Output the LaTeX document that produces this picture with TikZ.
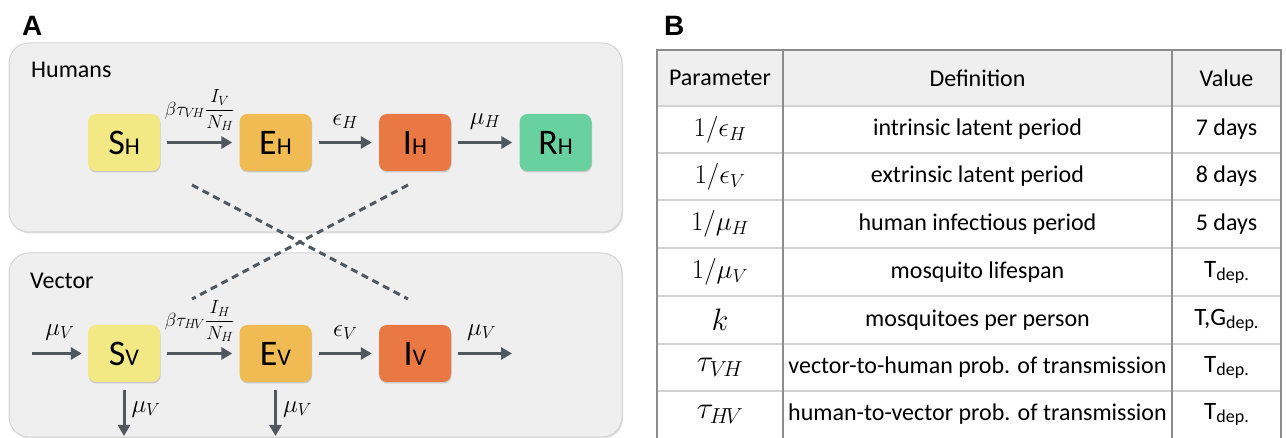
\RequirePackage{fix-cm}
\documentclass[tikz,border=0pt]{standalone}
\usepackage{fontspec}
\setmainfont{Carlito}
\newfontfamily\panelfont{Liberation Sans}
\usetikzlibrary{arrows.meta,shadows}

\definecolor{panelbg}{HTML}{EFEFEF}
\definecolor{panelrule}{HTML}{D4D4D4}
\definecolor{sus}{HTML}{F2E985}
\definecolor{expo}{HTML}{EFBB52}
\definecolor{infc}{HTML}{EA7843}
\definecolor{recv}{HTML}{68D19F}
\definecolor{flow}{HTML}{50575F}
\definecolor{gridline}{HTML}{D2D2D2}
\definecolor{frameline}{HTML}{8C8C8C}

\newcommand{\fsz}[1]{\fontsize{#1}{#1}\selectfont}
\newcommand{\compname}[2]{{\fsz{36}#1}{\fsz{24}#2}}
\newcommand{\deplabel}[1]{{\fsz{25}#1}{\fsz{18}\raisebox{-3pt}{dep.}}}

\begin{document}
\begin{tikzpicture}[x=1pt,y=-1pt,
  panel/.style={draw=panelrule, line width=1pt, fill=panelbg, rounded corners=20pt,
    drop shadow={shadow xshift=1pt, shadow yshift=-1.5pt, opacity=0.25}},
  compbox/.style={rounded corners=8pt, minimum width=72pt, minimum height=57pt,
    inner sep=0pt, text=black,
    drop shadow={shadow xshift=0.5pt, shadow yshift=-1.5pt, opacity=0.35}},
  flowarrow/.style={draw=flow, line width=3pt, -{Triangle[length=11pt,width=12pt]}},
  contact/.style={draw=flow, line width=3pt, dash pattern=on 7pt off 5pt},
  rate/.style={font=\fsz{25}, inner sep=0pt},
  fracrate/.style={font=\fsz{19}, inner sep=0pt},
  grouplabel/.style={font=\fsz{24}, anchor=west, inner sep=0pt},
  paneltag/.style={font=\panelfont\bfseries\fsz{28}, anchor=base west, inner sep=0pt},
  cell/.style={font=\fsz{24}, inner sep=0pt},
  mathcell/.style={font=\fsz{27}, inner sep=0pt},
  bigmathcell/.style={font=\fsz{31}, inner sep=0pt}
]
\useasboundingbox (0,0) rectangle (1286,438);

% ---------- Panel A : transmission model ----------
\node[paneltag] (tagA) at (22,36) {A};

\path[panel] (9,43) rectangle (622,232);
\path[panel] (9,253) rectangle (622,437);

\node[grouplabel] (hum) at (31,70) {Humans};
\node[grouplabel] (vec) at (30,281) {Vector};

% human compartments
\node[compbox, fill=sus]  (SH) at (124,142.5)   {\compname{S}{H}};
\node[compbox, fill=expo] (EH) at (275.5,142.5) {\compname{E}{H}};
\node[compbox, fill=infc] (IH) at (415,142.5)   {\compname{I}{H}};
\node[compbox, fill=recv] (RH) at (555.5,142.5) {\compname{R}{H}};

% vector compartments
\node[compbox, fill=sus]  (SV) at (124,353.5)   {\compname{S}{V}};
\node[compbox, fill=expo] (EV) at (275.5,353.5) {\compname{E}{V}};
\node[compbox, fill=infc] (IV) at (415,353.5)   {\compname{I}{V}};

% free ends of the vector birth/death flows
\coordinate (vin)   at (32,353.5);
\coordinate (vout)  at (512,353.5);
\coordinate (svout) at (124,436);
\coordinate (evout) at (275.5,436);

% human flows
\draw[flowarrow, shorten <=7pt, shorten >=7pt] (SH) -- (EH)
  node[fracrate, midway, above=10pt] (lSE) {$\displaystyle\beta\tau_{V\!H}\frac{I_V}{N_H}$};
\draw[flowarrow, shorten <=7pt, shorten >=7pt] (EH) -- (IH)
  node[rate, midway, above=12pt] (lEI) {$\epsilon_H$};
\draw[flowarrow, shorten <=7pt, shorten >=7pt] (IH) -- (RH)
  node[rate, midway, above=12pt] (lIR) {$\mu_H$};

% vector flows
\draw[flowarrow, shorten >=6pt] (vin) -- (SV)
  node[rate, midway, above=12pt] (lin) {$\mu_V$};
\draw[flowarrow, shorten <=7pt, shorten >=7pt] (SV) -- (EV)
  node[fracrate, midway, above=10pt] (lSEv) {$\displaystyle\beta\tau_{H\!V}\frac{I_H}{N_H}$};
\draw[flowarrow, shorten <=7pt, shorten >=7pt] (EV) -- (IV)
  node[rate, midway, above=12pt] (lEIv) {$\epsilon_V$};
\draw[flowarrow, shorten <=7pt] (IV) -- (vout)
  node[rate, midway, above=12pt] (lout) {$\mu_V$};
\draw[flowarrow, shorten <=8pt] (SV) -- (svout)
  node[rate, midway, right=6pt] (ldS) {$\mu_V$};
\draw[flowarrow, shorten <=8pt] (EV) -- (evout)
  node[rate, midway, right=6pt] (ldE) {$\mu_V$};

% cross-species contact links
\coordinate (hA) at (192,185);
\coordinate (hB) at (408,185);
\coordinate (vA) at (192,299);
\coordinate (vB) at (408,299);
\draw[contact] (hA) -- (vB);
\draw[contact] (hB) -- (vA);

% ---------- Panel B : parameter table ----------
\node[paneltag] (tagB) at (664,36) {B};

\fill[panelbg] (657,50) rectangle (1281,106);
\foreach \yy in {106,153,200,248,296,344,391}
  \draw[gridline, line width=1.2pt] (657,\yy) -- (1281,\yy);
\draw[frameline, line width=1.2pt] (783,50) -- (783,438);
\draw[frameline, line width=1.2pt] (1172,50) -- (1172,438);
\draw[frameline, line width=1.2pt] (657,438) -- (657,50) -- (1281,50) -- (1281,438);

% header
\node[cell] (hP) at (720,78)    {Parameter};
\node[cell] (hD) at (977.5,78)  {Definition};
\node[cell] (hV) at (1226.5,78) {Value};

% rows
\node[mathcell] (p1) at (720,129.5) {$1/\epsilon_H$};
\node[cell]     (d1) at (977.5,129.5) {intrinsic latent period};
\node[cell]     (v1) at (1226.5,129.5) {7 days};

\node[mathcell] (p2) at (720,176.5) {$1/\epsilon_V$};
\node[cell]     (d2) at (977.5,176.5) {extrinsic latent period};
\node[cell]     (v2) at (1226.5,176.5) {8 days};

\node[mathcell] (p3) at (720,224) {$1/\mu_H$};
\node[cell]     (d3) at (977.5,224) {human infectious period};
\node[cell]     (v3) at (1226.5,224) {5 days};

\node[mathcell] (p4) at (720,272) {$1/\mu_V$};
\node[cell]     (d4) at (977.5,272) {mosquito lifespan};
\node[cell]     (v4) at (1226.5,272) {\deplabel{T}};

\node[bigmathcell] (p5) at (720,320) {$k$};
\node[cell]     (d5) at (977.5,320) {mosquitoes per person};
\node[cell]     (v5) at (1226.5,320) {\deplabel{T,G}};

\node[bigmathcell] (p6) at (720,367.5) {$\tau_{V\!H}$};
\node[cell]     (d6) at (977.5,367.5) {vector-to-human prob. of transmission};
\node[cell]     (v6) at (1226.5,367.5) {\deplabel{T}};

\node[bigmathcell] (p7) at (720,414.5) {$\tau_{H\!V}$};
\node[cell]     (d7) at (977.5,414.5) {human-to-vector prob. of transmission};
\node[cell]     (v7) at (1226.5,414.5) {\deplabel{T}};
\end{tikzpicture}
\end{document}
